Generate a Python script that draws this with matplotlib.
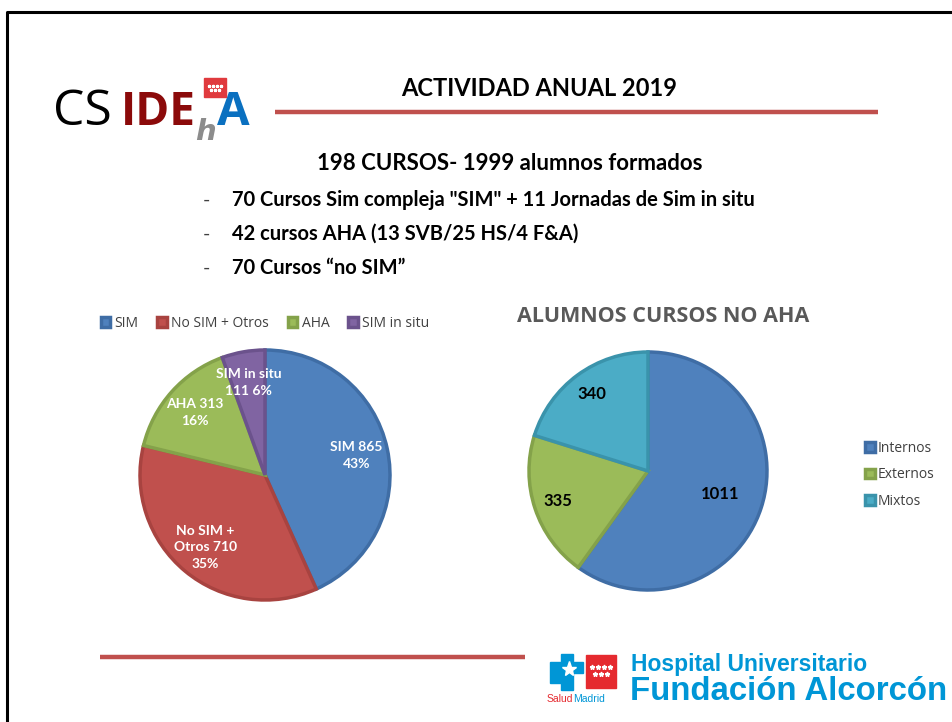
import matplotlib
matplotlib.use('Agg')
import matplotlib.pyplot as plt
from matplotlib.patches import Rectangle, Polygon
import numpy as np

# data
left_cats = ['SIM', 'No SIM + Otros', 'AHA', 'SIM in situ']
left_vals = [865, 710, 313, 111]
left_labels = ['SIM 865\n43%', 'No SIM +\nOtros 710\n35%', 'AHA 313\n16%', 'SIM in situ\n111 6%']

right_cats = ['Internos', 'Externos', 'Mixtos']
right_vals = [1011, 335, 340]

bullets = ['70 Cursos Sim compleja "SIM" + 11 Jornadas de Sim in situ',
           '42 cursos AHA (13 SVB/25 HS/4 F&A)',
           '70 Cursos \u201cno SIM\u201d']

left_colors = ['#4F81BD', '#C0504D', '#9BBB59', '#8064A2']
left_edges = ['#3F6DA5', '#A84340', '#84A24A', '#6B528C']
right_colors = ['#4F81BD', '#9BBB59', '#4BACC6']
right_edges = ['#3F6DA5', '#84A24A', '#3A93AB']
right_label_r = [0.64, 0.8, 0.8]

W, H = 953, 722
fig = plt.figure(figsize=(W / 100, H / 100), dpi=100)
fig.patch.set_facecolor('white')

bg = fig.add_axes([0, 0, 1, 1])
bg.set_xlim(0, W)
bg.set_ylim(H, 0)
bg.axis('off')

# slide border
bg.plot([7, 7, W + 5], [H + 5, 12, 12], color='black', lw=2.2, solid_capstyle='butt')

# logo top-left
bg.text(53, 125, 'CS', fontsize=36, family='Open Sans', color='black', va='baseline')
bg.text(121, 125, 'IDE', fontsize=33, family='Open Sans', weight='bold', color='#8B0A0A', va='baseline')
bg.text(195, 140, 'h', fontsize=21, family='DejaVu Sans', style='italic', weight='bold',
        color='#8C8C8C', va='baseline')
bg.text(217, 125, 'A', fontsize=34, family='Open Sans', weight='bold', color='#0A70C0', va='baseline')
bg.add_patch(Rectangle((204, 78), 22, 19, color='#E03A3E', zorder=3))
for sx in [209, 213, 217, 221]:
    bg.plot(sx, 86, marker='*', color='white', ms=2.2, zorder=4)
for sx in [211, 215, 219]:
    bg.plot(sx, 90, marker='*', color='white', ms=2.2, zorder=4)

# title and rules
bg.text(539, 88, 'ACTIVIDAD ANUAL 2019', fontsize=17, family='Lato', weight='bold', ha='center', va='center')
bg.plot([275, 878], [112, 112], color='#C0504D', lw=3.2, solid_capstyle='butt')
bg.plot([100, 525], [657, 657], color='#C0504D', lw=3.2, solid_capstyle='butt')

bg.text(510, 163, '198 CURSOS- 1999 alumnos formados', fontsize=16, family='Lato', weight='bold',
        ha='center', va='center')
for i, b in enumerate(bullets):
    y = 200 + i * 34
    bg.text(203, y, '-', fontsize=14, family='Lato', color='#404040', va='center')
    bg.text(232, y, b, fontsize=14.5, family='Lato', weight='bold', va='center')

bg.text(663, 316, 'ALUMNOS CURSOS NO AHA', fontsize=15.5, family='Open Sans', weight='bold',
        color='#595959', ha='center', va='center')


def pie_axes(cx, cy, r, pad=1.1):
    half = r * pad
    ax = fig.add_axes([(cx - half) / W, 1 - (cy + half) / H, 2 * half / W, 2 * half / H])
    return ax


def fix_limits(ax, pad=1.1):
    ax.set_xlim(-pad, pad)
    ax.set_ylim(-pad, pad)
    ax.axis('off')


# left pie
axl = pie_axes(265, 475, 125)
wl, _ = axl.pie(left_vals, colors=left_colors, startangle=90, counterclock=False,
                wedgeprops=dict(linewidth=2.5), radius=1)
fix_limits(axl)
for w, ec in zip(wl, left_edges):
    w.set_edgecolor(ec)
for w, lab in zip(wl, left_labels):
    ang = np.deg2rad((w.theta1 + w.theta2) / 2)
    axl.text(0.75 * np.cos(ang), 0.75 * np.sin(ang), lab, ha='center', va='center',
             color='white', fontsize=10, family='Lato', weight='bold', linespacing=1.45)

fig.legend(handles=wl, labels=left_cats, loc='center', bbox_to_anchor=(265 / W, 1 - 323 / H),
           ncol=4, frameon=False, handlelength=0.7, handleheight=0.7, handletextpad=0.3,
           columnspacing=1.35, labelcolor='#404040', prop=dict(family='Open Sans', size=10))

# right pie
axr = pie_axes(648, 471, 119)
wr, _ = axr.pie(right_vals, colors=right_colors, startangle=90, counterclock=False,
                wedgeprops=dict(linewidth=2.5), radius=1)
fix_limits(axr)
for w, ec in zip(wr, right_edges):
    w.set_edgecolor(ec)
for w, v, rr in zip(wr, right_vals, right_label_r):
    ang = np.deg2rad((w.theta1 + w.theta2) / 2)
    axr.text(rr * np.cos(ang), rr * np.sin(ang), str(v), ha='center', va='center',
             color='black', fontsize=12, family='Lato', weight='bold')

fig.legend(handles=wr, labels=right_cats, loc='upper left', bbox_to_anchor=(853 / W, 1 - 428 / H),
           ncol=1, frameon=False, handlelength=0.7, handleheight=0.7, handletextpad=0.2,
           labelspacing=0.85, labelcolor='#404040', prop=dict(family='Open Sans', size=10))

# hospital logo bottom-right
blue = '#0096D6'
cross = [(550, 662), (561, 662), (561, 654), (573, 654), (573, 662), (583, 662),
         (583, 673), (573, 673), (573, 690), (561, 690), (561, 683), (550, 683)]
bg.add_patch(Polygon(cross, closed=True, color=blue))
bg.plot(569, 669, marker='*', color='white', ms=11)
bg.add_patch(Rectangle((586, 655), 30, 33, color='#E52A2F'))
for sx in [592, 598, 604, 610]:
    bg.plot(sx, 667, marker='*', color='white', ms=3.5)
for sx in [595, 601, 607]:
    bg.plot(sx, 674, marker='*', color='white', ms=3.5)
salud = bg.text(547, 702, 'Salud', fontsize=7.5, family='Liberation Sans', color='#E52A2F',
                va='baseline')
bg.annotate('Madrid', xy=(1, 0), xycoords=salud, fontsize=7.5, family='Liberation Sans',
            color=blue, va='bottom', ha='left')
bg.text(631, 664, 'Hospital Universitario', fontsize=16.5, family='Liberation Sans', weight='bold',
        color=blue, va='center')
bg.text(630, 692, 'Fundación Alcorcón', fontsize=23.8, family='Liberation Sans', weight='bold',
        color=blue, va='center')

fig.savefig('out.png', dpi=100, facecolor='white')
